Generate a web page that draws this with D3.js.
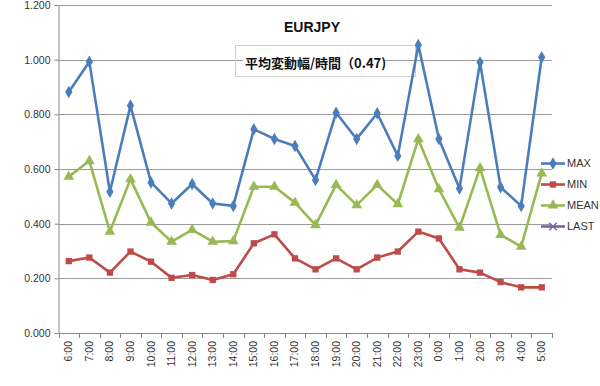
<!DOCTYPE html>
<html>
<head>
<meta charset="utf-8">
<script src="https://cdn.jsdelivr.net/npm/d3@7"></script>
<style>
  body { margin: 0; background: #fff; }
  svg { font-family: "Liberation Sans", Arial, sans-serif; }
</style>
</head>
<body>
<svg width="600" height="386"></svg>
<script>
var width  = 600;
var height = 386;

var hours = ['6:00','7:00','8:00','9:00','10:00','11:00','12:00','13:00','14:00','15:00','16:00','17:00',
             '18:00','19:00','20:00','21:00','22:00','23:00','0:00','1:00','2:00','3:00','4:00','5:00'];

var maxValues  = [0.882,0.992,0.517,0.832,0.551,0.474,0.545,0.474,0.465,0.745,0.710,0.684,
                  0.560,0.806,0.710,0.804,0.648,1.054,0.710,0.529,0.990,0.533,0.465,1.009];
var minValues  = [0.263,0.276,0.221,0.298,0.261,0.202,0.212,0.194,0.215,0.328,0.361,0.273,
                  0.233,0.273,0.233,0.276,0.298,0.371,0.346,0.233,0.221,0.186,0.167,0.167];
var meanValues = [0.572,0.629,0.371,0.563,0.404,0.334,0.377,0.334,0.336,0.535,0.535,0.477,
                  0.395,0.542,0.468,0.542,0.471,0.709,0.526,0.385,0.603,0.359,0.316,0.584];
var lastValues = [];

var yTicks = [0, 0.2, 0.4, 0.6, 0.8, 1.0, 1.2];

var seriesNames = ['MAX', 'MIN', 'MEAN', 'LAST'];
var seriesData  = [maxValues, minValues, meanValues, lastValues];
var colors      = ['#4a7ebb', '#be4b48', '#98b954', '#7d60a0'];
var symbols     = [d3.symbolDiamond, d3.symbolSquare, d3.symbolTriangle, d3.symbolX];
var symbolSizes = [45, 40, 50, 40];

var svg = d3.select('svg');

var xScale = d3.scaleBand()
                .domain(hours)
                .range([58.5, 552]);

var yScale = d3.scaleLinear()
                .domain([0, 1.2])
                .range([333, 5]);

// gridlines
svg.append('g')
    .selectAll('line')
    .data(yTicks.slice(1))
    .enter()
    .append('line')
        .attr('x1', 58.5)
        .attr('x2', 552)
        .attr('y1', d => Math.round(yScale(d)) + 0.5)
        .attr('y2', d => Math.round(yScale(d)) + 0.5)
        .attr('stroke', '#9a9a9a')
        .attr('stroke-width', 1);

// y axis
var yAxis = d3.axisLeft(yScale)
                .tickValues(yTicks)
                .tickFormat(d3.format('.3f'))
                .tickSize(4)
                .tickSizeOuter(0);

var yG = svg.append('g')
    .attr('transform', 'translate(58.5, 0)')
    .call(yAxis);
yG.select('.domain').attr('stroke', '#888');
yG.selectAll('.tick line').attr('stroke', '#888');
yG.selectAll('.tick text')
    .attr('x', -8)
    .attr('font-size', '10.5px')
    .attr('fill', '#333');

// x axis, ticks at category boundaries
svg.append('line')
    .attr('x1', 58.5).attr('x2', 552)
    .attr('y1', 333.5).attr('y2', 333.5)
    .attr('stroke', '#888');

svg.append('g')
    .selectAll('line')
    .data(hours.concat(['end']))
    .enter()
    .append('line')
        .attr('x1', (d, i) => Math.round(58.5 + i * xScale.step()) + 0.5)
        .attr('x2', (d, i) => Math.round(58.5 + i * xScale.step()) + 0.5)
        .attr('y1', 333)
        .attr('y2', 338)
        .attr('stroke', '#888');

svg.append('g')
    .selectAll('text')
    .data(hours)
    .enter()
    .append('text')
        .attr('transform', d => 'translate(' + (xScale(d) + xScale.bandwidth() / 2 + 3.5) + ',341) rotate(-90)')
        .attr('text-anchor', 'end')
        .attr('font-size', '10.5px')
        .attr('fill', '#333')
        .text(d => d);

// title
svg.append('text')
    .attr('x', 312)
    .attr('y', 32)
    .attr('text-anchor', 'middle')
    .attr('font-size', '14px')
    .attr('font-weight', 'bold')
    .attr('fill', '#111')
    .text('EURJPY');

// annotation box (under the lines)
svg.append('rect')
    .attr('x', 235.5)
    .attr('y', 45.5)
    .attr('width', 180)
    .attr('height', 31)
    .attr('fill', 'none')
    .attr('stroke', '#cfcfcf');

svg.append('rect')
    .attr('x', 243)
    .attr('y', 53)
    .attr('width', 140)
    .attr('height', 18)
    .attr('fill', '#fff');

svg.append('text')
    .attr('x', 245)
    .attr('y', 68)
    .attr('font-size', '13px')
    .attr('font-weight', 'bold')
    .attr('font-family', '"Noto Sans CJK JP", sans-serif')
    .attr('fill', '#111')
    .text('平均変動幅/時間（0.47)');

// series
var line = d3.line()
                .x((d, i) => xScale(hours[i]) + xScale.bandwidth() / 2)
                .y(d => yScale(d));

seriesData.forEach(function(values, s) {
    if (!values.length) return;
    svg.append('path')
        .datum(values)
        .attr('fill', 'none')
        .attr('stroke', colors[s])
        .attr('stroke-width', 2.6)
        .attr('stroke-linejoin', 'round')
        .attr('d', line);

    svg.append('g')
        .selectAll('path')
        .data(values)
        .enter()
        .append('path')
            .attr('transform', (d, i) => 'translate(' + (xScale(hours[i]) + xScale.bandwidth() / 2) + ',' + yScale(d) + ')')
            .attr('d', d3.symbol().type(symbols[s]).size(symbolSizes[s]))
            .attr('fill', colors[s]);
});

// legend
var legend = svg.append('g')
    .selectAll('g')
    .data(seriesNames)
    .enter()
    .append('g')
        .attr('transform', (d, i) => 'translate(541,' + (163.5 + i * 21) + ')');

legend.append('line')
    .attr('x1', 0).attr('x2', 24)
    .attr('stroke', (d, i) => colors[i])
    .attr('stroke-width', 2.6);

legend.append('path')
    .attr('transform', 'translate(12,0)')
    .attr('d', (d, i) => d3.symbol().type(symbols[i]).size(symbolSizes[i])())
    .attr('fill', (d, i) => i === 3 ? 'none' : colors[i])
    .attr('stroke', (d, i) => i === 3 ? colors[i] : 'none')
    .attr('stroke-width', 1.3);

legend.append('text')
    .attr('x', 26)
    .attr('dy', '0.35em')
    .attr('font-size', '11px')
    .attr('fill', '#333')
    .text(d => d);
</script>
</body>
</html>
